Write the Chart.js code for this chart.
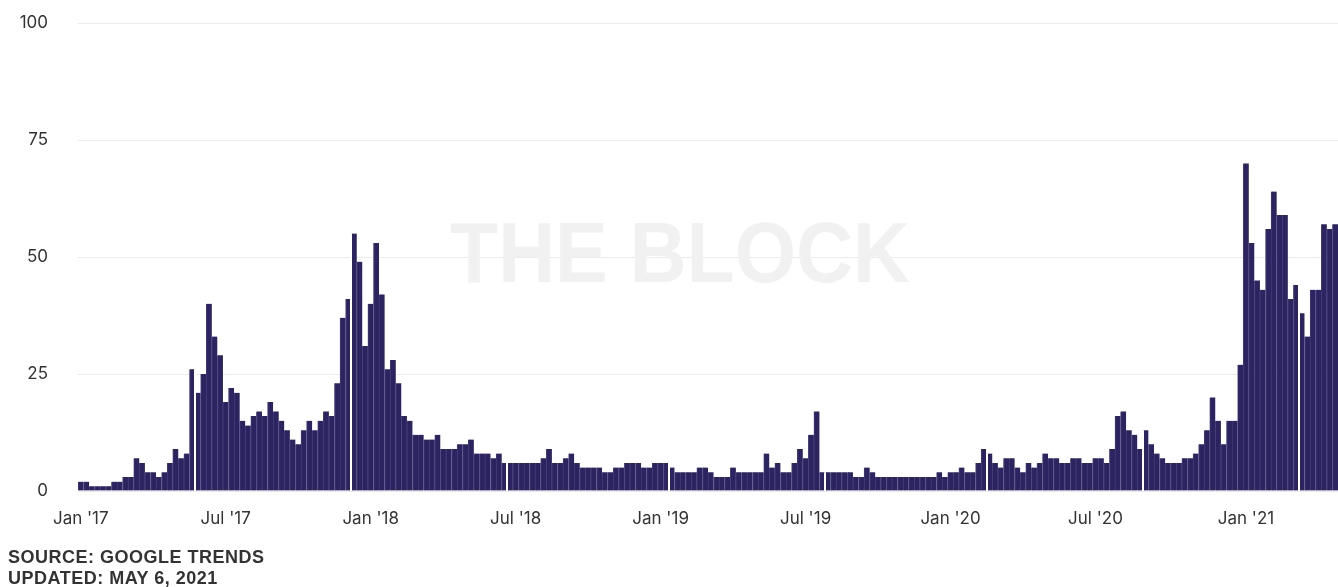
<!DOCTYPE html>
<html>
<head>
<meta charset="utf-8">
<script src="https://cdn.jsdelivr.net/npm/chart.js@4.4.0/dist/chart.umd.min.js"></script>
<style>
  html, body { margin: 0; padding: 0; background: #fff; }
  #wrap { position: relative; width: 1338px; height: 587px; overflow: hidden; }
  #wrap canvas { position: absolute; left: 0; top: 0; }
  .note { position: absolute; left: 8px; font: bold 18px/19px "Liberation Sans", Arial, sans-serif; letter-spacing: 0.5px; color: #333; white-space: nowrap; }
</style>
</head>
<body>
<div id="wrap">
  <canvas id="trend-chart" width="1338" height="587"></canvas>
  <div class="note" style="top:548px">SOURCE: GOOGLE TRENDS</div>
  <div class="note" style="top:569px">UPDATED: MAY 6, 2021</div>
</div>
<script>
// weekly search interest, Google Trends scale 0-100, weeks starting 1 Jan 2017
const interest = [
  2, 2, 1, 1, 1, 1, 2, 2, 3, 3,
  7, 6, 4, 4, 3, 4, 6, 9, 7, 8,
  26,
  21, 25, 40, 33, 29, 19, 22, 21, 15, 14,
  16, 17, 16, 19, 17, 15, 13, 11, 10,
  13, 15, 13, 15, 17, 16, 23, 37, 41,
  55, 49, 31, 40, 53, 42, 26, 28, 23, 16,
  15, 12, 12, 11, 11, 12, 9, 9, 9, 10,
  10, 11, 8, 8, 8, 7, 8, 6,
  6, 6, 6, 6, 6, 6, 7, 9, 6, 6,
  7, 8, 6, 5, 5, 5, 5, 4, 4, 5,
  5, 6, 6, 6, 5, 5, 6, 6, 6,
  5, 4, 4, 4, 4, 5, 5, 4, 3, 3,
  3, 5, 4, 4, 4, 4, 4, 8, 5, 6,
  4, 4, 6, 9, 7, 12, 17, 4,
  4, 4, 4, 4, 4, 3, 3, 5, 4, 3,
  3, 3, 3, 3, 3, 3, 3, 3, 3, 3,
  4, 3, 4, 4, 5, 4, 4, 6, 9,
  8, 6, 5, 7, 7, 5, 4, 6, 5, 6,
  8, 7, 7, 6, 6, 7, 7, 6, 6, 7,
  7, 6, 9, 16, 17, 13, 12, 9,
  13, 10, 8, 7, 6, 6, 6, 7, 7, 8,
  10, 13, 20, 15, 10, 15, 15, 27,
  70, 53, 45, 43, 56, 64, 59, 59, 41, 44,
  38, 33, 43, 43, 57, 56, 57
];

// one category per week
const weeks = interest.map((_, i) => {
  const d = new Date(Date.UTC(2017, 0, 1 + i * 7));
  return d.toISOString().slice(0, 10);
});

// which weeks get a label on the x axis
const tickWeeks = [0, 26, 52, 78, 104, 130, 156, 182, 209];
const tickLabels = ["Jan '17", "Jul '17", "Jan '18", "Jul '18", "Jan '19", "Jul '19", "Jan '20", "Jul '20", "Jan '21"];

const yTicks = [0, 25, 50, 75, 100];

const barColor = '#2b2461';
const seamColor = '#433c78';
const tickFont = { family: 'Inter, "Noto Sans", sans-serif', size: 17 };

// thin white seams that run through the bars every few months
const seamAfter = [20, 48, 76, 105, 133, 162, 190, 218];
const seams = {
  id: 'seams',
  afterDatasetsDraw(chart) {
    const { ctx, chartArea, scales: { x, y } } = chart;
    ctx.save();
    ctx.strokeStyle = '#fff';
    ctx.lineWidth = 2;
    seamAfter.forEach(i => {
      const px = Math.round((x.getPixelForValue(i) + x.getPixelForValue(i + 1)) / 2);
      const top = y.getPixelForValue(Math.max(interest[i], interest[i + 1]));
      ctx.beginPath();
      ctx.moveTo(px, top);
      ctx.lineTo(px, chartArea.bottom);
      ctx.stroke();
    });
    ctx.restore();
  }
};

const watermark = {
  id: 'watermark',
  beforeDatasetsDraw(chart) {
    const ctx = chart.ctx;
    ctx.save();
    ctx.font = 'bold 86px "Liberation Sans", Arial, sans-serif';
    ctx.fillStyle = '#f1f1f1';
    ctx.textAlign = 'center';
    ctx.textBaseline = 'alphabetic';
    const w = ctx.measureText('THE BLOCK').width;
    ctx.translate(680, 282);
    ctx.scale(460 / w, 1);
    ctx.fillText('THE BLOCK', 0, 0);
    ctx.restore();
  }
};

const config = {
  type: 'bar',
  data: {
    labels: weeks,
    datasets: [{
      data: interest,
      backgroundColor: barColor,
      borderColor: seamColor,
      borderWidth: { left: 1, right: 0, top: 0, bottom: 0 },
      borderSkipped: false,
      barPercentage: 1,
      categoryPercentage: 1
    }]
  },
  options: {
    responsive: false,
    animation: false,
    devicePixelRatio: 1,
    layout: { padding: { top: 23, right: 0, left: 0, bottom: 0 } },
    plugins: {
      legend: { display: false },
      tooltip: { enabled: false }
    },
    scales: {
      x: {
        grid: { display: false, drawTicks: false },
        border: { display: false },
        afterBuildTicks: (scale) => {
          scale.ticks = tickWeeks.map(v => ({ value: v }));
        },
        afterFit: (scale) => {
          scale.height = 96;
          scale.paddingTop = 0;
          scale.paddingBottom = 0;
        },
        ticks: {
          autoSkip: false,
          maxRotation: 0,
          padding: 18,
          color: '#333',
          font: tickFont,
          callback: (value, index) => tickLabels[index]
        }
      },
      y: {
        min: 0,
        max: 100,
        afterBuildTicks: (scale) => {
          scale.ticks = yTicks.map(v => ({ value: v }));
        },
        afterFit: (scale) => {
          scale.width = 78;
          scale.paddingTop = 0;
          scale.paddingBottom = 0;
        },
        grid: { color: '#ebebeb', lineWidth: 1, drawTicks: false },
        border: { display: false },
        ticks: {
          padding: 30,
          color: '#333',
          font: tickFont
        }
      }
    }
  },
  plugins: [watermark, seams]
};

const trendChart = new Chart(document.getElementById('trend-chart'), config);
</script>
</body>
</html>
